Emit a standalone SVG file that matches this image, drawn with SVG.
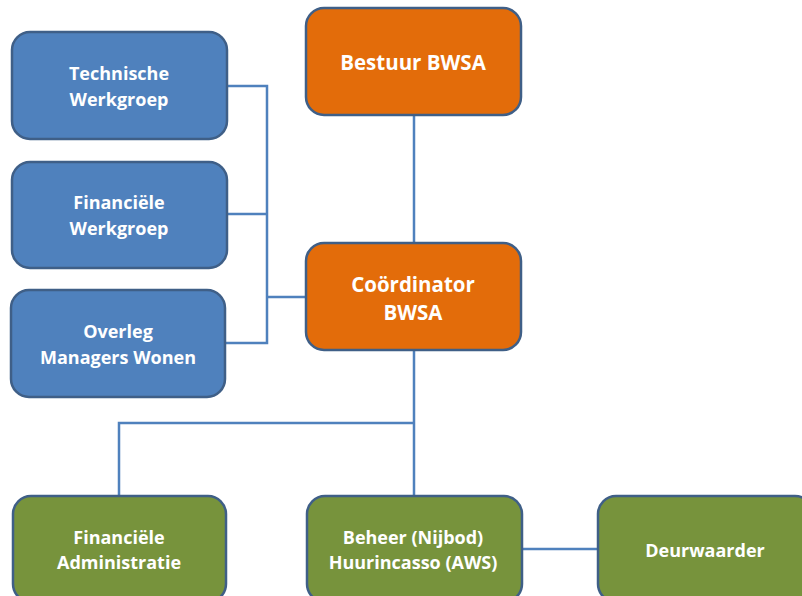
<svg xmlns="http://www.w3.org/2000/svg" width="802" height="596" viewBox="0 0 802 596">
<style>
.box{stroke:#3f5f87;stroke-width:2.5}
.blue{fill:#4f81bd}
.orange{fill:#e36c0a}
.green{fill:#77933c}
.t{font-family:"Open Sans","Liberation Sans",sans-serif;font-weight:bold;font-size:18px;fill:#ffffff;text-anchor:middle;dominant-baseline:central}
.big{font-size:20.5px}
.c{fill:none;stroke:#4f81bd;stroke-width:2.5}
</style>
<rect width="802" height="596" fill="#ffffff"/>
<g id="connectors">
<path class="c" d="M227,86 H267 V343 H225 M227,214 H267 M267,297 H306"/>
<path class="c" d="M414,115 V243"/>
<path class="c" d="M414,350 V496 M414,423 H119 V496"/>
<path class="c" d="M522,549 H598"/>
</g>
<g id="technische">
<rect class="box blue" x="12" y="32" width="215" height="107" rx="18"/>
<text class="t" x="119" y="73">Technische</text>
<text class="t" x="119" y="99">Werkgroep</text>
</g>
<g id="financiele-werkgroep">
<rect class="box blue" x="12" y="162" width="215" height="106" rx="18"/>
<text class="t" x="119" y="202">Financiële</text>
<text class="t" x="119" y="228">Werkgroep</text>
</g>
<g id="overleg">
<rect class="box blue" x="11" y="290" width="214" height="107" rx="18"/>
<text class="t" x="118" y="331">Overleg</text>
<text class="t" x="118" y="357">Managers Wonen</text>
</g>
<g id="bestuur">
<rect class="box orange" x="306" y="8" width="215" height="107" rx="18"/>
<text class="t big" x="413" y="62">Bestuur BWSA</text>
</g>
<g id="coordinator">
<rect class="box orange" x="306" y="243" width="215" height="107" rx="18"/>
<text class="t big" x="413" y="284">Coördinator</text>
<text class="t big" x="413" y="312">BWSA</text>
</g>
<g id="financiele-administratie">
<rect class="box green" x="13" y="496" width="213" height="106" rx="18"/>
<text class="t" x="119" y="537">Financiële</text>
<text class="t" x="119" y="562">Administratie</text>
</g>
<g id="beheer">
<rect class="box green" x="307" y="496" width="215" height="106" rx="18"/>
<text class="t" x="413" y="537">Beheer (Nijbod)</text>
<text class="t" x="413" y="562">Huurincasso (AWS)</text>
</g>
<g id="deurwaarder">
<rect class="box green" x="598" y="496" width="215" height="106" rx="18"/>
<text class="t" x="705" y="550">Deurwaarder</text>
</g>
</svg>
